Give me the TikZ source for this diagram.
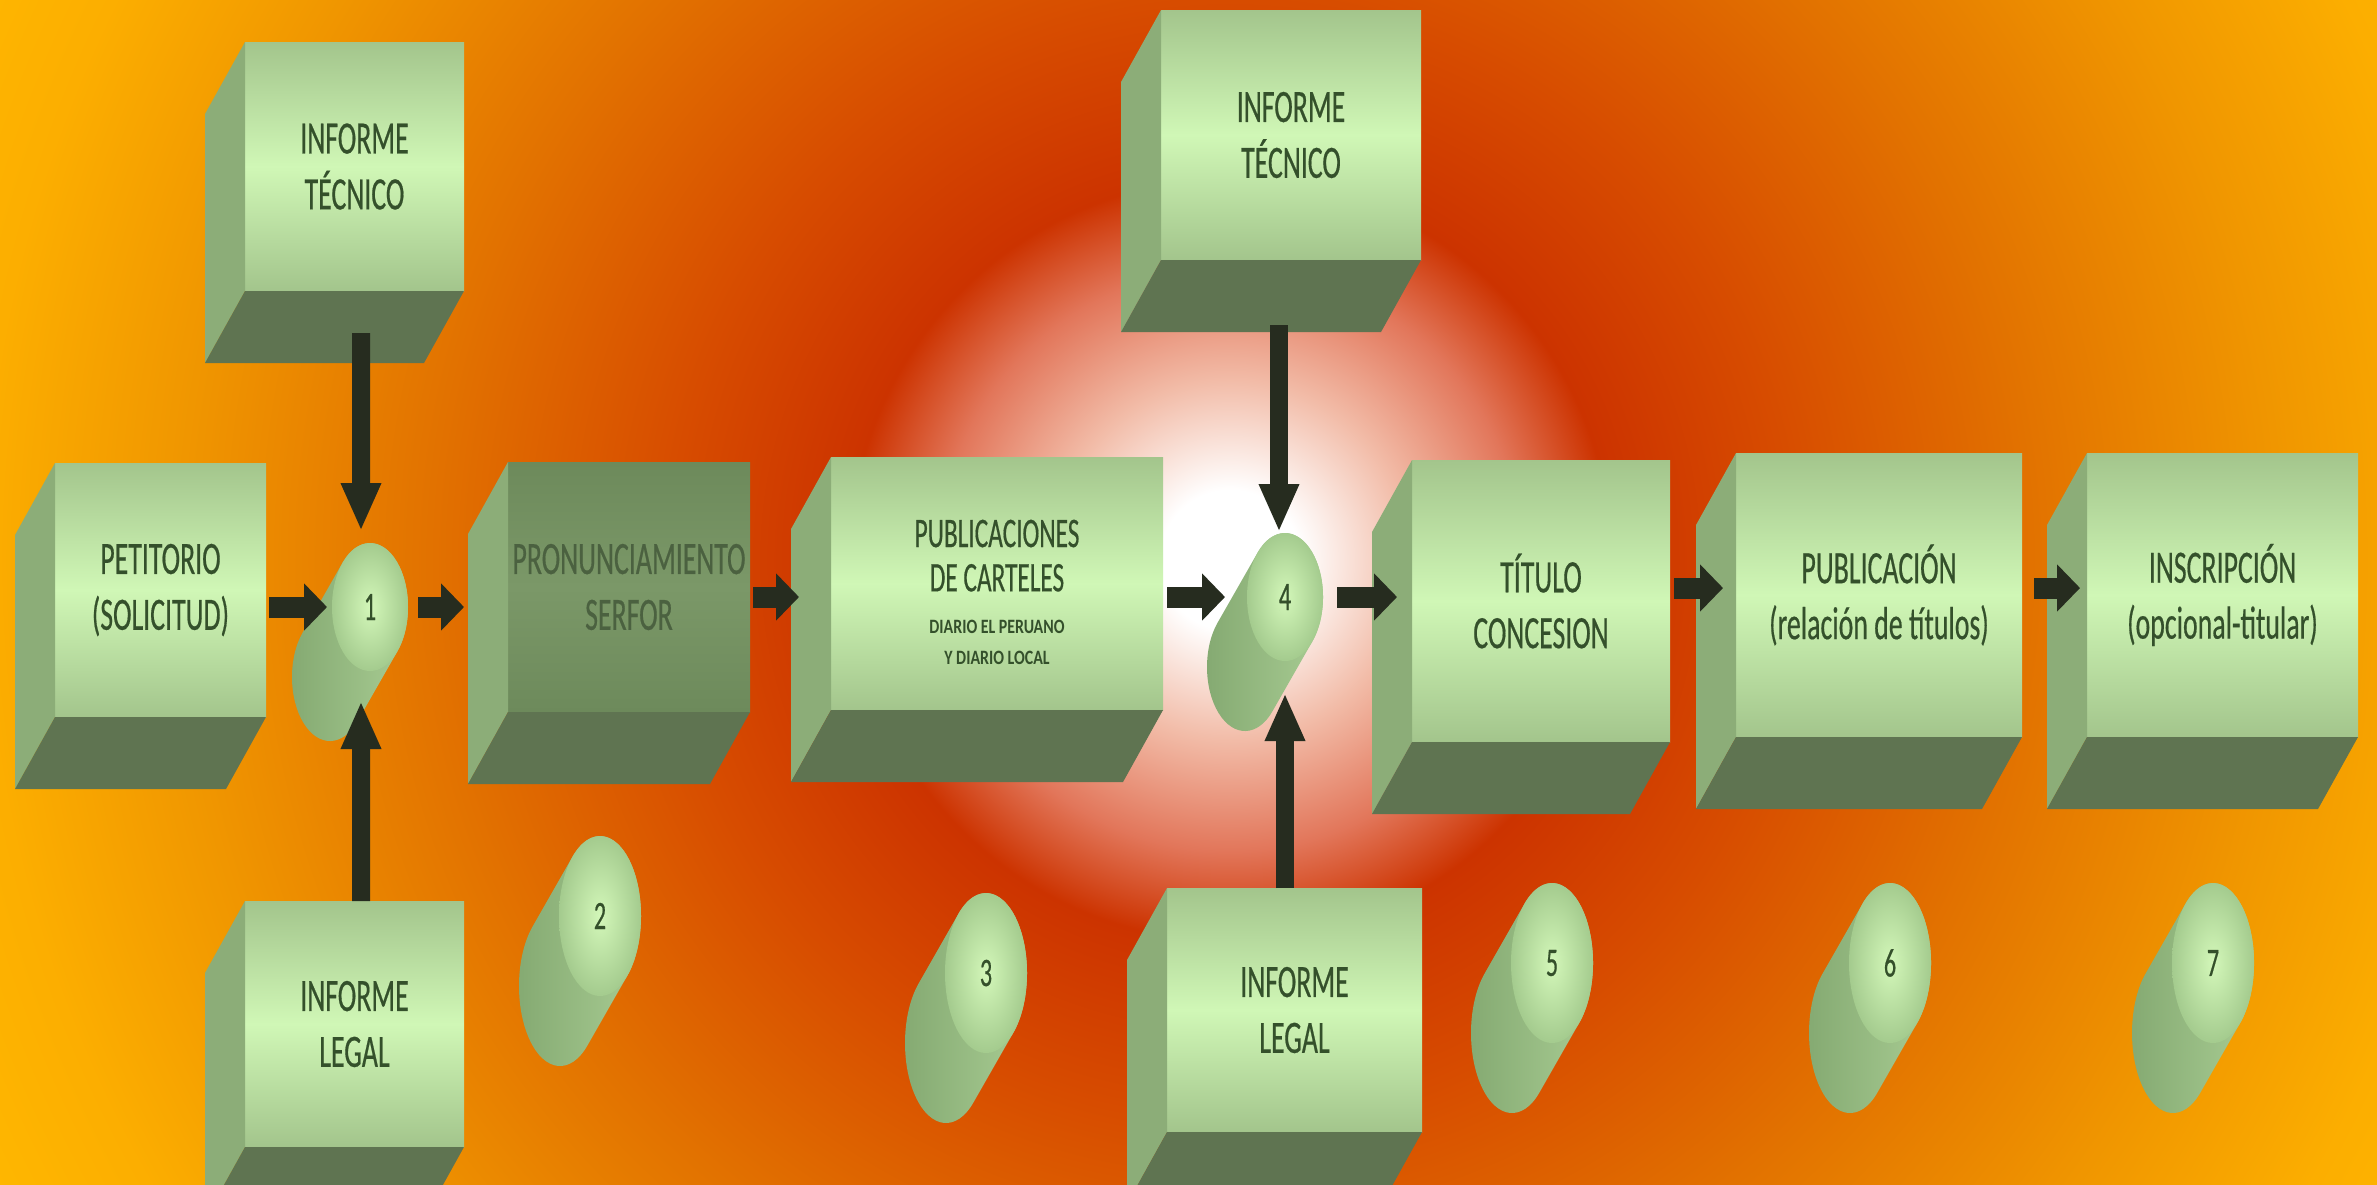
\documentclass[tikz,border=0pt]{standalone}
\usepackage{fontspec}
\usepackage{tikz}
\usetikzlibrary{arrows.meta,shapes.geometric,calc}
\newfontfamily\cajafont{Carlito}[FakeStretch=0.6, FakeBold=0.4]
\newfontfamily\diariofont{Carlito}[FakeStretch=0.78]

\definecolor{glowA}{HTML}{F2BCA8}
\definecolor{glowB}{HTML}{E2765A}
\definecolor{rojo}{HTML}{CC3300}
\definecolor{naranjaA}{HTML}{D74C00}
\definecolor{naranjaB}{HTML}{E27200}
\definecolor{naranjaC}{HTML}{F09600}
\definecolor{amarillo}{HTML}{FCAE00}
\definecolor{amarilloB}{HTML}{FFB800}
\definecolor{frenteA}{HTML}{A3C58C}
\definecolor{frenteB}{HTML}{D0F7B6}
\definecolor{pronA}{HTML}{6D8A5B}
\definecolor{pronB}{HTML}{7B9868}
\definecolor{ladoverde}{HTML}{8CAD78}
\definecolor{baseverde}{HTML}{5F7451}
\definecolor{textoverde}{HTML}{34502B}
\definecolor{pronTexto}{HTML}{4B6140}
\definecolor{tapaA}{HTML}{A4CB8E}
\definecolor{tapaB}{HTML}{D3F7B9}
\definecolor{cuerpoA}{HTML}{84A971}
\definecolor{cuerpoB}{HTML}{A9CD94}
\definecolor{flechaverde}{HTML}{262C1F}

\pgfdeclareradialshading{fondo}{\pgfpoint{0bp}{0bp}}{%
	color(0bp)=(white); color(1.25bp)=(white); color(3.2bp)=(glowA);
	color(5.2bp)=(glowB); color(6.8bp)=(rojo); color(10bp)=(naranjaA);
	color(14.3bp)=(naranjaB); color(18.75bp)=(naranjaC); color(22.3bp)=(amarillo);
	color(25bp)=(amarilloB); color(50bp)=(amarilloB)}

\tikzset{
	caja/.style={rectangle, inner sep=0pt, outer sep=0pt, align=center, text=textoverde,
		font=\cajafont\fontsize{13.2}{15.9}\selectfont,
		top color=frenteA, bottom color=frenteA, middle color=frenteB},
	cajaoscura/.style={caja, text=pronTexto,
		top color=pronA, bottom color=pronA, middle color=pronB},
	lado/.style={fill=ladoverde},
	base/.style={fill=baseverde},
	tapa/.style={ellipse, inner sep=0pt, outer sep=0pt, text=textoverde,
		font=\cajafont\fontsize{11.5}{14}\selectfont,
		shade, inner color=tapaB, outer color=tapaA},
	cuerpo/.style={left color=cuerpoA, right color=cuerpoB},
	flecha/.style={draw=flechaverde, line width=2.1mm, -{Triangle[length=2.3mm,width=4.6mm]}},
	flechav/.style={draw=flechaverde, line width=1.8mm, -{Triangle[length=4.8mm,width=3.7mm]}}
}

\begin{document}
\begin{tikzpicture}[x=0.1mm, y=-0.1mm]
			% Background
			\useasboundingbox (0,0) rectangle (2377,1184);
			\clip (0,0) rectangle (2377,1184);
			\shade[shading=fondo] (1230,560) circle (1400);
			
			% Informes around step 1
			\node[caja, minimum width=21.9mm, minimum height=24.9mm] (it1) at (354.5,166.5) {INFORME\\TÉCNICO};
			\node[caja, minimum width=21.9mm, minimum height=24.6mm] (il1) at (354.5,1024) {INFORME\\LEGAL};
			
			% Main row
			\node[caja, minimum width=21.1mm, minimum height=25.4mm] (pet) at (160.5,590) {PETITORIO\\(SOLICITUD)};
			\node[cajaoscura, minimum width=24.2mm, minimum height=25mm] (pron) at (629,587) {PRONUNCIAMIENTO\\SERFOR};
			\node[caja, minimum width=33.2mm, minimum height=25.3mm, font=\cajafont\fontsize{12}{12.6}\selectfont] (publ) at (997,583.5)
				{\rule{0pt}{12.7pt}PUBLICACIONES\\DE CARTELES\\[-0.7pt]{\diariofont\bfseries\fontsize{5.8}{8}\selectfont DIARIO EL PERUANO}\\[-3.7pt]{\diariofont\bfseries\fontsize{5.8}{8}\selectfont Y DIARIO LOCAL}};
			\node[caja, minimum width=25.8mm, minimum height=28.2mm] (tit) at (1541,601) {TÍTULO\\CONCESION};
			\node[caja, minimum width=28.6mm, minimum height=28.4mm] (pubu) at (1879,595) {PUBLICACIÓN\\(relación de títulos)};
			\node[caja, minimum width=27.1mm, minimum height=28.4mm] (ins) at (2222.5,595) {INSCRIPCIÓN\\(opcional-titular)};
			
			% Informes around step 4
			\node[caja, minimum width=26mm, minimum height=25mm] (it2) at (1291,135) {INFORME\\TÉCNICO};
			\node[caja, minimum width=25.5mm, minimum height=24.4mm] (il2) at (1294.5,1010) {INFORME\\LEGAL};
			
			% Sides of the boxes
			\foreach \n in {it1,il1,pet,pron,publ,tit,pubu,ins,it2,il2}{
				\fill[lado] (\n.north west) -- ++(-40,72) -- ($(\n.south west)+(-40,72)$) -- (\n.south west) -- cycle;
				\fill[base] (\n.south west) -- (\n.south east) -- ++(-40,72) -- ($(\n.south west)+(-40,72)$) -- cycle;
			}
			
			% Numbered cylinders
			\foreach \n/\x/\y/\rx/\ry in {1/370/607/38/64, 2/600/916/41/80, 3/986/973/41/80, 4/1285/597/38/64,
					5/1552/963/41/80, 6/1890/963/41/80, 7/2213/963/41/80}{
				\pgfmathsetmacro\angc{atan(40*\ry/(70*\rx))}
				\shade[cuerpo] ({\x+\rx*cos(\angc)},{\y+\ry*sin(\angc)}) -- ++(-40,70)
					arc[start angle=\angc, end angle=\angc+180, x radius=\rx, y radius=\ry] -- ++(40,-70)
					arc[start angle=\angc+180, end angle=\angc+360, x radius=\rx, y radius=\ry] -- cycle;
				\node[tapa, minimum width=2*\rx*0.1mm, minimum height=2*\ry*0.1mm] (c\n) at (\x,\y) {\n};
			}
			
			% Arrows of the main row
			\draw[flecha] ($(pet.east |- c1)+(3,0)$) -- ($(c1.west)+(-5,0)$);
			\draw[flecha] ($(c1.east)+(10,0)$) -- ($(pron.west |- c1)+(-44,0)$);
			\draw[flecha] ($(pron.east |- c4)+(3,0)$) -- ($(publ.west |- c4)+(-32,0)$);
			\draw[flecha] ($(publ.east |- c4)+(4,0)$) -- ($(c4.west)+(-22,0)$);
			\draw[flecha] ($(c4.east)+(14,0)$) -- ($(tit.west |- c4)+(-15,0)$);
			\draw[flecha] ($(tit.east |- pubu)+(4,-7)$) -- ($(pubu.west)+(-13,-7)$);
			\draw[flecha] ($(pubu.east)+(12,-7)$) -- ($(ins.west)+(-7,-7)$);
			
			% Arrows of the informes
			\draw[flechav] ($(it1.south)+(6.5,42)$) -- ($(c1.north)+(-9,-12)$);
			\draw[flechav] ($(il1.north)+(6.5,0)$) -- ($(c1.south)+(-9,30)$);
			\draw[flechav] ($(it2.south)+(-12,65)$) -- ($(c4.north)+(-6,-1)$);
			\draw[flechav] ($(il2.north)+(-9.5,0)$) -- ($(c4.south)+(0,32)$);
		\end{tikzpicture}
\end{document}
